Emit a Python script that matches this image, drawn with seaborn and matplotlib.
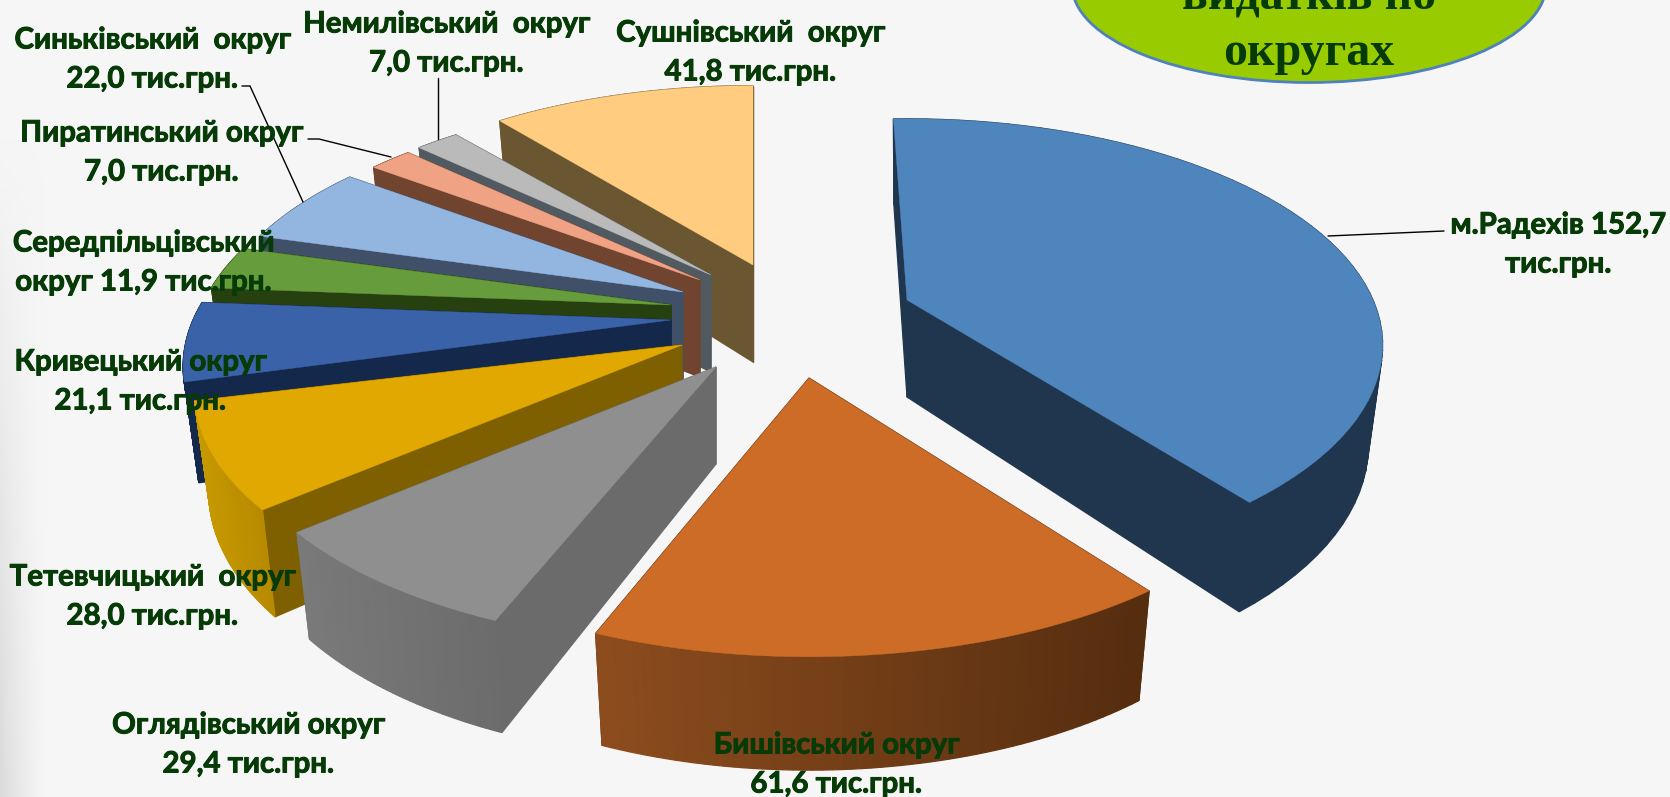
import numpy as np
import pandas as pd
import seaborn as sns
import matplotlib.pyplot as plt
import matplotlib.patheffects as pe
from matplotlib.patches import Ellipse
from matplotlib.colors import to_rgb

# values in тис.грн., clockwise from the top
labels = [
    "м.Радехів 152,7\nтис.грн.",
    "Бишівський округ\n61,6 тис.грн.",
    "Оглядівський округ\n29,4 тис.грн.",
    "Тетевчицький  округ\n28,0 тис.грн.",
    "Кривецький округ\n21,1 тис.грн.",
    "Середпільцівський\nокруг 11,9 тис.грн.",
    "Синьківський  округ\n22,0 тис.грн.",
    "Пиратинський округ\n7,0 тис.грн.",
    "Немилівський  округ\n7,0 тис.грн.",
    "Сушнівський  округ\n41,8 тис.грн.",
]
values = [152.7, 61.6, 29.4, 28.0, 21.1, 11.9, 22.0, 7.0, 7.0, 41.8]
title_lines = ["видатків по", "округах"]

# styling per slice
top_colors = ["#4F85BD", "#CC6C27", "#8F8F8F", "#E0A800", "#3A62A8",
              "#669C3C", "#93B6E0", "#F0A384", "#BABABA", "#FFCC80"]
face_colors = ["#20364E", "#552D0F", "#6B6B6B", "#7F6000", "#14284C",
               "#264010", "#3F5068", "#70442F", "#505A60", "#6A5630"]
band_right = ["#20364E", "#552D0F", "#6C6C6C", "#B88A00", "#14284C",
              "#264010", "#3F5068", "#70442F", "#505A60", "#6A5630"]
band_left = ["#20364E", "#8E4D1E", "#7A7A7A", "#C79A00", "#14284C",
             "#264010", "#3F5068", "#70442F", "#505A60", "#6A5630"]

# exploded slice offsets from the pie centre (pixels)
pie_x, pie_y = 700, 310
explode_dx = [207, 109, 16, -18, -29, -29, -17, 0, 11, 53]
explode_dy = [-10, 68, 57, 35, 10, -5, -18, -30, -35, -45]
# small hand corrections so the fake perspective follows the picture
slice_scale = [0.975, 1, 1, 1, 1, 0.98, 0.97, 0.95, 0.95, 0.965]
slice_rot = [-1.0, 0.6, 1.4, 1.5, 0, 0, 0, 0, 0, 1.0]

label_x = [1558, 836, 248, 152, 140, 143, 152, 161, 446, 750]
label_y = [245, 765, 745, 597, 382, 263, 60, 153, 44, 53]

# fake 3D projection of the pie
RX, RY, PERSP, DEPTH = 478, 223, 0.2, 97
START = -1.0
SHRINK = 0.03  # lower rim sits a little closer to the slice centre


def project(theta, cx, cy, k):
    X = np.sin(theta)
    Y = -np.cos(theta)
    s = 1 / (1 - PERSP * Y)
    return cx + k * RX * X * s, cy + k * RY * Y * s, DEPTH * s ** 0.7


def draw_slice(ax, t0, t1, cx, cy, k, top, face, c_right, c_left):
    th = np.linspace(t0, t1, 60)
    x, y, d = project(th, cx, cy, k)
    xb = cx + (x - cx) * (1 - SHRINK)

    # side faces, far ones first
    faces = []
    for ia in (0, -1):
        qx = [cx, x[ia], xb[ia], cx]
        qy = [cy, y[ia], y[ia] + d[ia], cy + DEPTH]
        faces.append(((y[ia] + cy) / 2, qx, qy, face))
    rgb_r, rgb_l = np.array(to_rgb(c_right)), np.array(to_rgb(c_left))
    xmin, xmax = x.min(), x.max()
    for i in range(len(th) - 1):
        f = (xmax - x[i]) / max(xmax - xmin, 1)
        qx = [x[i], x[i + 1], xb[i + 1], xb[i]]
        qy = [y[i], y[i + 1], y[i + 1] + d[i + 1], y[i] + d[i]]
        faces.append(((y[i] + y[i + 1]) / 2, qx, qy, tuple(rgb_r + (rgb_l - rgb_r) * f)))
    for _, qx, qy, c in sorted(faces, key=lambda q: q[0]):
        ax.fill(qx, qy, color=c, lw=0.9, zorder=2)

    ax.fill(np.r_[cx, x], np.r_[cy, y], color=top, lw=0.3, zorder=2)


sns.set_theme(style="white")
plt.rcParams["font.family"] = ["Lato", "DejaVu Sans"]

df = pd.DataFrame({"label": labels, "value": values,
                   "dx": explode_dx, "dy": explode_dy,
                   "scale": slice_scale, "rot": np.radians(slice_rot)})
df["frac"] = df["value"] / df["value"].sum()
df["t1"] = np.radians(START) + 2 * np.pi * df["frac"].cumsum()
df["t0"] = df["t1"] - 2 * np.pi * df["frac"]

fig = plt.figure(figsize=(16.7, 7.97), dpi=100, facecolor="#F6F6F6")
ax = fig.add_axes([0, 0, 1, 1])
ax.axis("off")

# shadow strip on the left edge of the slide, stronger towards the bottom
fade_x = np.linspace(1, 0, 50) ** 1.5
fade_y = np.clip(np.linspace(-0.2, 1, 80), 0, 1)
ax.imshow(np.outer(fade_y, fade_x), extent=[0, 50, 797, 0], aspect="auto", zorder=0,
          cmap=sns.blend_palette(["#F6F6F6", "#DADADA"], as_cmap=True), vmin=0, vmax=1)
ax.set_xlim(0, 1670)
ax.set_ylim(797, 0)

# back to front
order = [9, 8, 7, 6, 5, 4, 3, 2, 0, 1]
for i in order:
    row = df.iloc[i]
    draw_slice(ax, row.t0 + row.rot, row.t1 + row.rot, pie_x + row.dx, pie_y + row.dy,
               row.scale, top_colors[i], face_colors[i], band_right[i], band_left[i])

# leader lines
leader_kw = dict(color="black", lw=1, zorder=4)
ax.plot([1328, 1444], [236, 231], **leader_kw)
ax.plot([242, 250, 303], [86, 86, 202], **leader_kw)
ax.plot([308, 319, 391], [139, 139, 157], **leader_kw)
ax.plot([438, 438], [78, 139], **leader_kw)

# Lato bold is lighter than the original face, thicken it a touch
thicker = [pe.withStroke(linewidth=0.7, foreground="#063A06")]
for lab, lx, ly in zip(labels, label_x, label_y):
    ax.text(lx, ly, lab, ha="center", va="center", fontsize=21.2,
            fontweight="bold", color="#063A06", linespacing=1.62, zorder=6,
            path_effects=thicker)

# title badge, cut off by the top of the slide
ax.add_patch(Ellipse((1309, -15), 474, 195, fc="#99CC00", ec="#4F81BD", lw=2, zorder=5))
for line, base in zip(title_lines, [8, 65]):
    ax.text(1309, base, line, ha="center", va="baseline", fontsize=34.5,
            fontweight="bold", family="Liberation Serif", color="#063A06", zorder=6)

fig.savefig("out.png", dpi=100, facecolor=fig.get_facecolor())
plt.close(fig)
